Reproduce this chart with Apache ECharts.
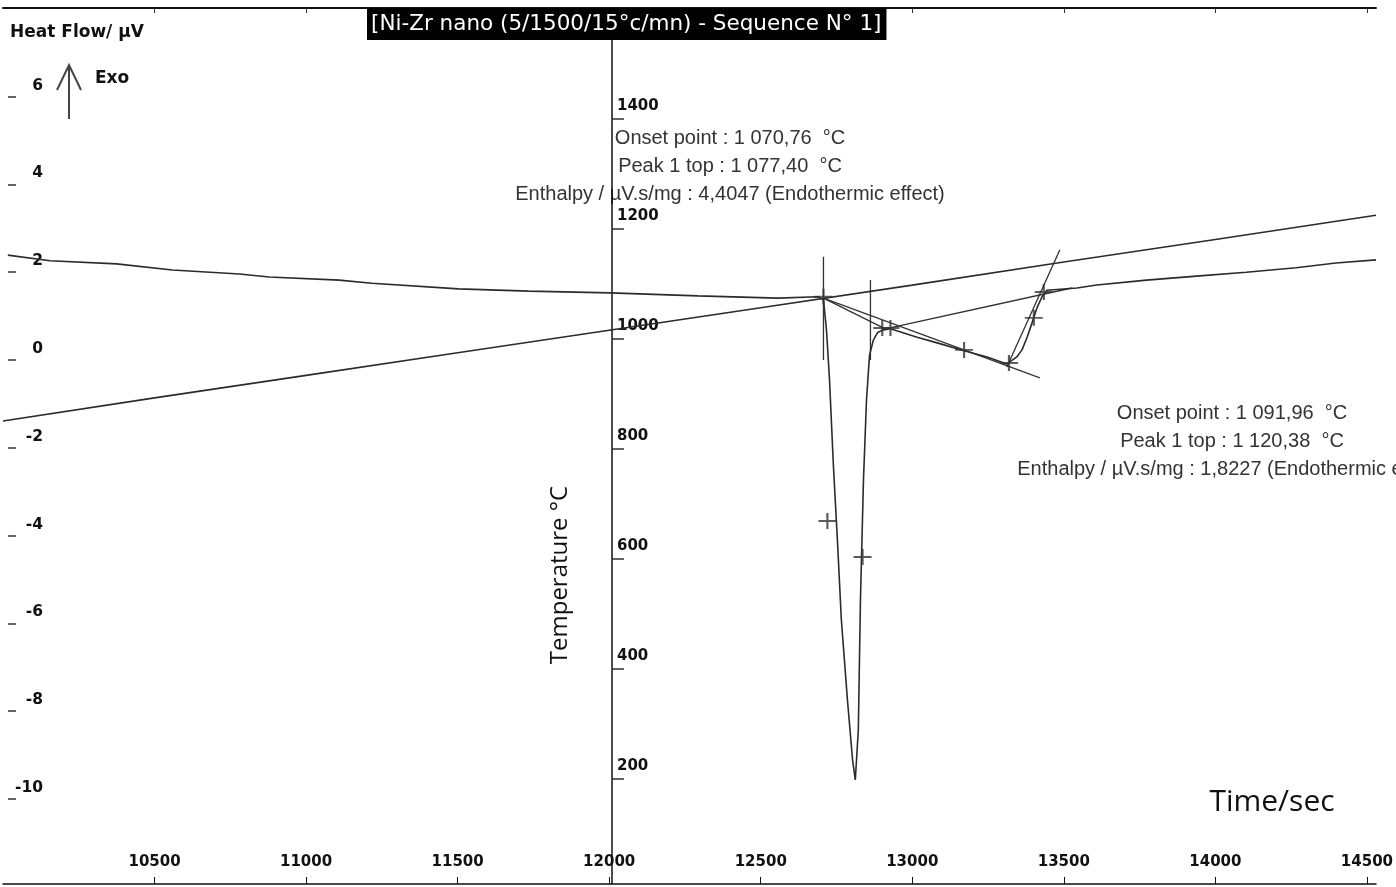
<!DOCTYPE html>
<html>
<head>
<meta charset="utf-8">
<script src="https://cdn.jsdelivr.net/npm/echarts@6/dist/echarts.min.js"></script>
<style>
  html, body { margin: 0; padding: 0; background: #fff; }
  #chart { width: 1396px; height: 887px; }
</style>
</head>
<body>
<div id="chart"></div>
<script>
  // heat flow curve (time / sec , µV)
  var hfTime = [10016, 10155, 10375, 10559, 10780, 10878, 11109, 11217, 11503, 11734, 12003, 12293, 12556, 12688,
    12707, 12717, 12727, 12740, 12753, 12766, 12786, 12803, 12812, 12822, 12829, 12839, 12849, 12859, 12872,
    12885, 12901, 12928, 13016, 13082, 13171, 13247, 13312, 13345, 13362, 13378, 13395, 13411, 13428, 13444,
    13543, 13609, 13773, 13938, 14102, 14266, 14398, 14530];
  var hfValue = [2.39, 2.26, 2.19, 2.05, 1.96, 1.89, 1.82, 1.75, 1.62, 1.57, 1.53, 1.46, 1.41, 1.44,
    1.37, 0.68, -0.46, -2.44, -4.10, -5.92, -7.74, -9.11, -9.57, -8.43, -5.47, -2.73, -0.91, 0.11, 0.46,
    0.62, 0.68, 0.71, 0.52, 0.39, 0.21, 0.07, -0.09, 0.07, 0.23, 0.50, 0.84, 1.18, 1.44, 1.59,
    1.64, 1.71, 1.82, 1.91, 2.00, 2.10, 2.21, 2.28];

  // temperature curve (°C)
  var tempTime = [10000, 10500, 11000, 11500, 12000, 12500, 13000, 13500, 14000, 14530];
  var tempValue = [851, 893, 934, 975, 1016, 1057, 1098, 1140, 1181, 1225];

  // tangent / baseline constructions [[t1, hf1], [t2, hf2]]
  var constructLines = [
    [[12707, 1.41], [13421, -0.41]],
    [[12707, 1.41], [12911, 0.71]],
    [[12911, 0.71], [13526, 1.64]],
    [[13312, -0.16], [13487, 2.51]],
    [[12707, 2.35], [12707, 0.0]],
    [[12862, 1.82], [12862, 0.0]]
  ];

  // "+" markers put on the curves
  var markTime = [12720, 12836, 12707, 12901, 12928, 13171, 13319, 13401, 13434];
  var markValue = [-3.67, -4.49, 1.44, 0.73, 0.73, 0.23, -0.07, 0.96, 1.55];

  var hfTicks = [-10, -8, -6, -4, -2, 0, 2, 4, 6];
  var tempTicks = [200, 400, 600, 800, 1000, 1200, 1400];
  var timeTicks = [10500, 11000, 11500, 12000, 12500, 13000, 13500, 14000, 14500];

  var onset1 = ['Onset point : 1 070,76  °C', 'Peak 1 top : 1 077,40  °C',
    'Enthalpy / µV.s/mg : 4,4047 (Endothermic effect)'];
  var onset2 = ['Onset point : 1 091,96  °C', 'Peak 1 top : 1 120,38  °C',
    'Enthalpy / µV.s/mg : 1,8227 (Endothermic effect)'];

  var font = '"Liberation Sans", Arial, sans-serif';
  var boldFont = '"DejaVu Sans", sans-serif';
  var lineColor = '#2b2b2b';

  function zip(a, b) {
    var out = [];
    for (var i = 0; i < a.length; i++) out.push([a[i], b[i]]);
    return out;
  }
  function plain(v) { return String(v); }

  var series = [
    {
      name: 'Heat Flow', type: 'line', xAxisIndex: 0, yAxisIndex: 0,
      data: zip(hfTime, hfValue), showSymbol: false,
      lineStyle: { color: lineColor, width: 1.6 }, z: 5
    },
    {
      name: 'Temperature', type: 'line', xAxisIndex: 0, yAxisIndex: 1,
      data: zip(tempTime, tempValue), showSymbol: false,
      lineStyle: { color: lineColor, width: 1.6 }, z: 5
    }
  ];
  constructLines.forEach(function (l, i) {
    series.push({
      name: 'construct' + i, type: 'line', xAxisIndex: 0, yAxisIndex: 0,
      data: l, showSymbol: false,
      lineStyle: { color: '#333', width: 1.3 }, z: 4
    });
  });
  series.push({
    name: 'marks', type: 'scatter', xAxisIndex: 0, yAxisIndex: 0,
    data: zip(markTime, markValue),
    symbol: 'path://M0,4.4h10v1.2h-10zM4.4,0h1.2v10h-1.2z',
    symbolSize: [18, 16],
    itemStyle: { color: '#333' }, z: 6
  });

  function textLines(arr, x, y, step) {
    return arr.map(function (t, i) {
      return {
        type: 'text', x: x, y: y + i * step,
        style: { text: t, font: '20px ' + font, fill: '#333', textAlign: 'center', textVerticalAlign: 'middle' }
      };
    });
  }

  var chart = echarts.init(document.getElementById('chart'));
  chart.setOption({
    animation: false,
    backgroundColor: '#fff',
    title: {
      text: '[Ni-Zr nano (5/1500/15°c/mn) - Sequence N° 1]',
      left: 367, top: 8,
      padding: [5, 5, 5, 4],
      backgroundColor: '#000',
      textStyle: { color: '#fff', fontFamily: boldFont, fontSize: 21.5, fontWeight: 'normal' },
      z: 10
    },
    grid: { left: 3, top: 8, width: 1378, height: 876 },
    xAxis: [
      {
        type: 'value', position: 'bottom', min: 10000, max: 14530,
        axisLine: { onZero: false, lineStyle: { color: '#111', width: 1.5 } },
        axisTick: { inside: true, length: 7, customValues: timeTicks, lineStyle: { color: '#111' } },
        axisLabel: {
          inside: true, margin: 14, customValues: timeTicks, formatter: plain,
          color: '#111', fontFamily: boldFont, fontSize: 15, fontWeight: 'bold'
        },
        splitLine: { show: false }
      },
      {
        type: 'value', position: 'top', min: 10000, max: 14530,
        axisLine: { onZero: false, lineStyle: { color: '#111', width: 2 } },
        axisTick: { inside: true, length: 5, customValues: timeTicks, lineStyle: { color: '#333' } },
        axisLabel: { show: false },
        splitLine: { show: false }
      }
    ],
    yAxis: [
      {
        type: 'value', position: 'left', offset: -5, min: -11.94, max: 8.02,
        axisLine: { show: false, onZero: false },
        axisTick: { show: true, inside: true, length: 8, customValues: hfTicks, lineStyle: { color: '#333', width: 1.5 } },
        axisLabel: {
          inside: true, margin: 35, align: 'right', verticalAlign: 'bottom', padding: [0, 0, 3, 0],
          customValues: hfTicks, formatter: plain, color: '#111', fontFamily: boldFont, fontSize: 15.5, fontWeight: 'bold'
        },
        splitLine: { show: false }
      },
      {
        type: 'value', position: 'left', offset: -609, min: 9, max: 1602,
        axisLine: { show: true, onZero: false, lineStyle: { color: '#111', width: 1.5 } },
        axisTick: { show: true, inside: true, length: 12, customValues: tempTicks, lineStyle: { color: '#333', width: 1.5 } },
        axisLabel: {
          inside: true, margin: 5, align: 'left', verticalAlign: 'bottom', padding: [0, 0, 5, 0],
          customValues: tempTicks, formatter: plain, color: '#111', fontFamily: boldFont, fontSize: 15, fontWeight: 'bold'
        },
        splitLine: { show: false }
      }
    ],
    graphic: [
      {
        type: 'text', x: 10, y: 33,
        style: { text: 'Heat Flow/ µV', font: 'bold 17px ' + boldFont, fill: '#111', textVerticalAlign: 'middle' }
      },
      {
        type: 'text', x: 95, y: 79,
        style: { text: 'Exo', font: 'bold 17px ' + boldFont, fill: '#111', textVerticalAlign: 'middle' }
      },
      {
        type: 'polyline',
        shape: { points: [[57, 90], [69, 65], [81, 90]] },
        style: { stroke: '#444', lineWidth: 2, fill: null }
      },
      {
        type: 'line',
        shape: { x1: 69, y1: 66, x2: 69, y2: 119 },
        style: { stroke: '#444', lineWidth: 2 }
      },
      {
        type: 'text', x: 560, y: 575, rotation: Math.PI / 2,
        style: { text: 'Temperature °C', font: '24px "Open Sans", sans-serif', fill: '#111', textAlign: 'center', textVerticalAlign: 'middle' }
      },
      {
        type: 'text', x: 1272, y: 802,
        style: { text: 'Time/sec', font: '30px "Open Sans", sans-serif', fill: '#111', textAlign: 'center', textVerticalAlign: 'middle' }
      }
    ].concat(textLines(onset1, 730, 138, 28)).concat(textLines(onset2, 1232, 413, 28)),
    series: series
  });
</script>
</body>
</html>
